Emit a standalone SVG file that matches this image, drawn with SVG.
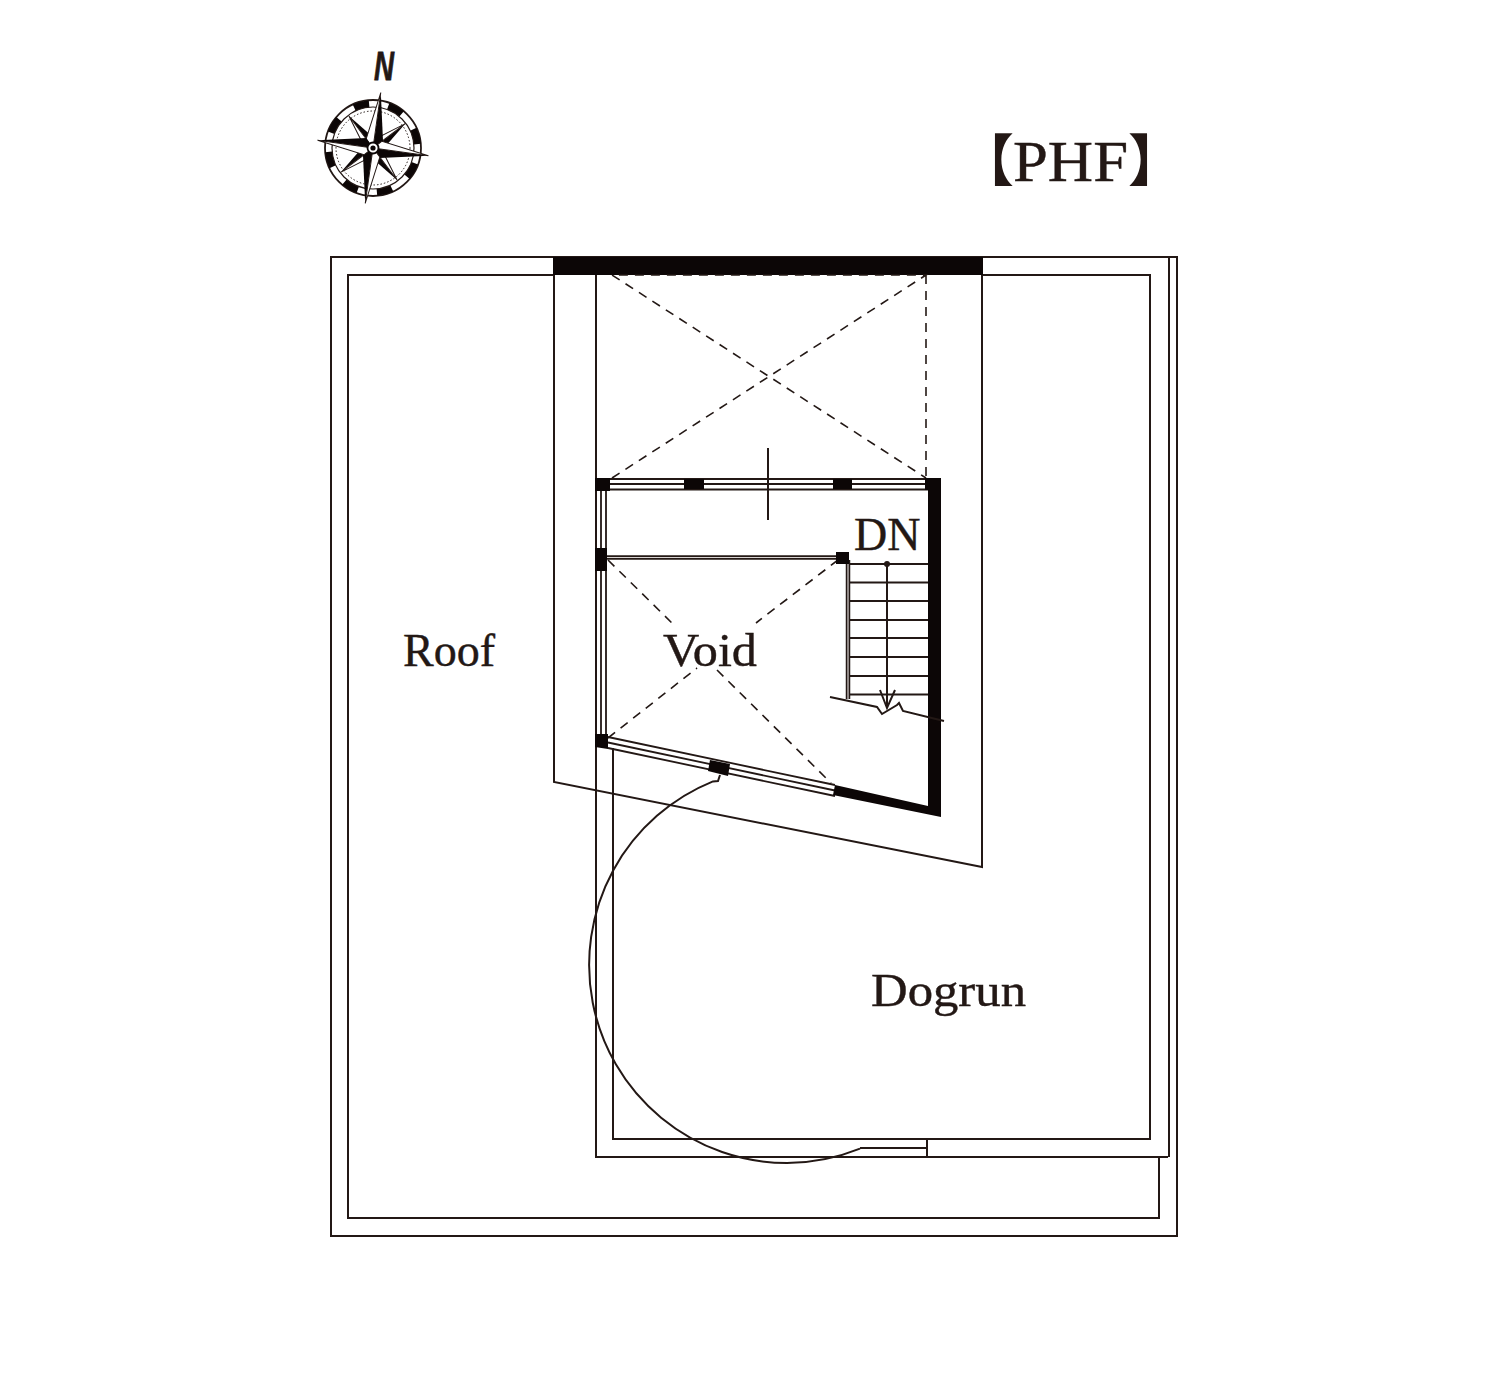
<svg xmlns="http://www.w3.org/2000/svg" width="1500" height="1384" viewBox="0 0 1500 1384">
<style>
.l{fill:none;stroke:#231815;stroke-width:2}
.t{fill:none;stroke:#231815;stroke-width:1.800}
.d{fill:none;stroke:#231815;stroke-width:1.600;stroke-dasharray:9 7}
.k{fill:#0c0606;stroke:none}
.x{font-family:"Liberation Serif","Times New Roman",serif;fill:#231815;font-size:46px;stroke:#231815;stroke-width:.4}
</style>
<defs>
<g id="pt"><polygon points="0,0 0,-56 9,-8" fill="#0c0606"/><polygon points="0,0 0,-56 -8,-8" fill="#fff" stroke="#231815" stroke-width="1"/></g>
<g id="ps"><polygon points="0,0 0,-40 7,-7" fill="#0c0606"/><polygon points="0,0 0,-40 -6,-7" fill="#fff" stroke="#231815" stroke-width="1"/></g>
</defs>
<rect width="1500" height="1384" fill="#fff"/>

<g id="compass">
<text x="374" y="80" font-family="'Liberation Sans',Arial,sans-serif" font-weight="700" font-style="italic" font-size="41" fill="#231815" stroke="#231815" stroke-width=".8" textLength="20" lengthAdjust="spacingAndGlyphs">N</text>
<circle cx="373" cy="148" r="48" fill="#fff" stroke="#231815" stroke-width="1.800"/>
<circle cx="373" cy="148" r="44.500" fill="none" stroke="#0c0606" stroke-width="7" pathLength="360" stroke-dasharray="20 25" transform="rotate(-25 373 148)"/>
<circle cx="373" cy="148" r="41" fill="none" stroke="#231815" stroke-width="1.200"/>
<circle cx="373" cy="148" r="37" fill="none" stroke="#231815" stroke-width="1" stroke-dasharray="1.500 2"/>
<g transform="translate(373 148) rotate(8)">
<use href="#ps" transform="rotate(45)"/><use href="#ps" transform="rotate(135)"/><use href="#ps" transform="rotate(225)"/><use href="#ps" transform="rotate(315)"/>
<use href="#pt"/><use href="#pt" transform="rotate(90)"/><use href="#pt" transform="rotate(180)"/><use href="#pt" transform="rotate(270)"/>
</g>
<circle cx="373" cy="148" r="5.500" fill="#fff" stroke="#0c0606" stroke-width="1.800"/>
<circle cx="373" cy="148" r="2.600" fill="#0c0606"/>
</g>

<g id="title">
<text x="958" y="181" font-family="'Noto Sans CJK JP',sans-serif" font-weight="700" font-size="56" fill="#231815">【</text>
<text class="x" x="1013" y="181" style="font-size:56px" textLength="115" lengthAdjust="spacingAndGlyphs">PHF</text>
<text x="1128" y="181" font-family="'Noto Sans CJK JP',sans-serif" font-weight="700" font-size="56" fill="#231815">】</text>
</g>

<g id="outline">
<rect class="l" x="331" y="257" width="846" height="979"/>
<path class="l" d="M1169 257V1157"/>
<path class="l" d="M553 275H348V1218H1159V1157"/>
<path class="l" d="M983 275H1150V1139H613V748"/>
<path class="l" d="M596 275V1157H1168"/>
<path class="l" d="M927 1139V1157M860 1148H927"/>
<path class="l" d="M554 275V782L982 867V275"/>
<rect class="k" x="553" y="257" width="430" height="18"/>
</g>

<g id="dashed">
<path class="d" d="M612 478L926 275H612L926 478M926 275V478"/>
<path class="d" d="M608 560L675 626M838 560L756 623M608 738L697 668M717 670L831 783"/>
</g>

<g id="room">
<path class="l" d="M768 448V520"/>
<path class="t" d="M596 479H928M596 489.500H928M610 484H928"/>
<path class="t" d="M596 490V740M601 490V736M606 490V736"/>
<path class="t" d="M608 737L835 785M608 742.500L835 790.500M608 748L835 796"/>
<path d="M606 557.500H838" fill="none" stroke="#231815" stroke-width="4.500"/>
<path d="M606 557.500H838" fill="none" stroke="#d9d4d2" stroke-width="1.200"/>
<path d="M848 560V699" fill="none" stroke="#231815" stroke-width="4.500"/>
<path d="M848 560V699" fill="none" stroke="#d9d4d2" stroke-width="1.200"/>
<rect class="k" x="595" y="478" width="15" height="13"/>
<rect class="k" x="684" y="479" width="20" height="10"/>
<rect class="k" x="833" y="479" width="19" height="10"/>
<rect class="k" x="595" y="548" width="12" height="23"/>
<rect class="k" x="836" y="552" width="13" height="12"/>
<polygon class="k" points="595,734 608,734 608,749 595,747"/>
<polygon class="k" points="710,760 730,764 728,776 708,771"/>
<polygon class="k" points="925,478 941,478 941,817 833,795 835,785 928,806 928,490 925,490"/>
<path class="l" d="M850 564H928M850 582.500H928M850 601H928M850 620H928M850 638H928M850 657H928M850 676H928M850 694.500H928"/>
<path class="l" d="M887 564V708M880 690L887 708L895 690"/>
<circle cx="887" cy="564" r="3" fill="#231815"/>
<path class="l" d="M830 697L877 707L882 714L897 705L899 703L903 711L944 721"/>
<path class="l" d="M720 775L718 781L713 781.400A198 198 0 0 0 787 1163A198 198 0 0 0 860 1148.600"/>
</g>

<g id="labels">
<text class="x" x="403" y="666">Roof</text>
<text class="x" x="663" y="666" textLength="94" lengthAdjust="spacingAndGlyphs">Void</text>
<text class="x" x="854" y="550">DN</text>
<text class="x" x="871" y="1006" textLength="155" lengthAdjust="spacingAndGlyphs">Dogrun</text>
</g>
</svg>
